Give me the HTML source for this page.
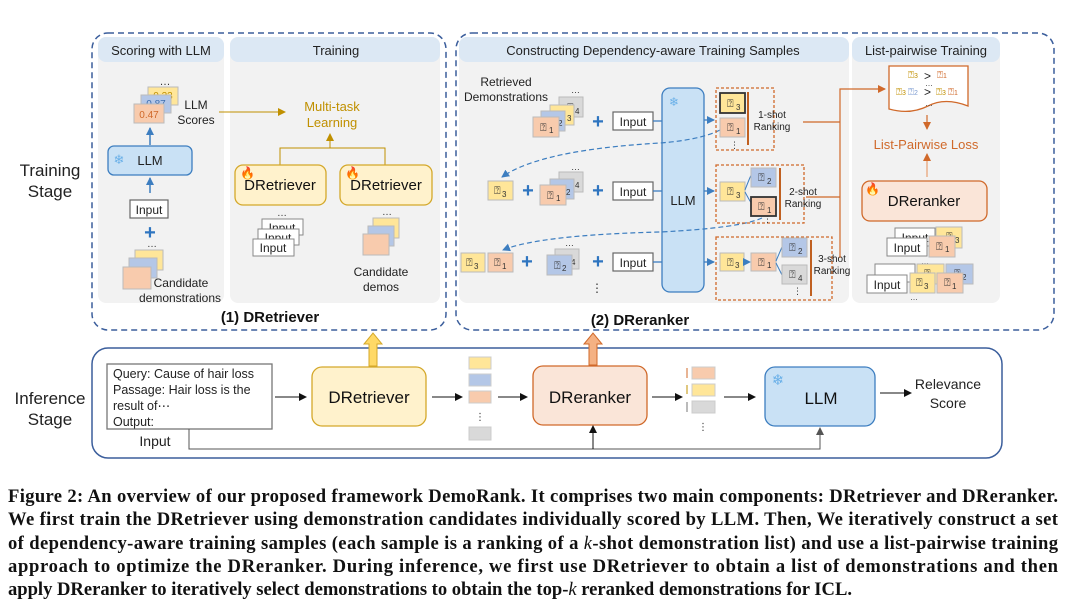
<!DOCTYPE html>
<html><head><meta charset="utf-8"><style>
body{margin:0;background:#fff}
svg{display:block;font-family:"Liberation Sans","DejaVu Sans",sans-serif}
.c{font-family:"Liberation Serif",serif;font-weight:bold;font-size:18.6px;fill:#111}
.q{font-family:"DejaVu Sans",sans-serif;font-size:11px;fill:#333}
.s{font-size:8px;fill:#333}
</style></head><body>
<svg width="1066" height="605" viewBox="0 0 1066 605" xmlns="http://www.w3.org/2000/svg">
<defs>
<marker id="ab" markerWidth="8" markerHeight="8" refX="7" refY="4" orient="auto" markerUnits="userSpaceOnUse"><path d="M0,0L8,4L0,8z" fill="#111"/></marker>
<marker id="abl" markerWidth="8" markerHeight="8" refX="7" refY="4" orient="auto" markerUnits="userSpaceOnUse"><path d="M0,0L8,4L0,8z" fill="#3d7ec0"/></marker>
<marker id="ago" markerWidth="8" markerHeight="8" refX="7" refY="4" orient="auto" markerUnits="userSpaceOnUse"><path d="M0,0L8,4L0,8z" fill="#c09000"/></marker>
<marker id="aor" markerWidth="8" markerHeight="8" refX="7" refY="4" orient="auto" markerUnits="userSpaceOnUse"><path d="M0,0L8,4L0,8z" fill="#d0692a"/></marker>
<marker id="agr" markerWidth="8" markerHeight="8" refX="7" refY="4" orient="auto" markerUnits="userSpaceOnUse"><path d="M0,0L8,4L0,8z" fill="#555"/></marker>
</defs>

<text x="50" y="176" font-size="17" text-anchor="middle" fill="#222">Training</text>
<text x="50" y="197" font-size="17" text-anchor="middle" fill="#222">Stage</text>
<text x="50" y="404" font-size="17" text-anchor="middle" fill="#222">Inference</text>
<text x="50" y="425" font-size="17" text-anchor="middle" fill="#222">Stage</text>

<rect x="92" y="33" width="354" height="297" rx="16" fill="#fff" stroke="#3b5e9c" stroke-width="1.5" stroke-dasharray="6,4"/>
<rect x="98" y="37" width="126" height="266" rx="8" fill="#f2f2f2"/>
<rect x="98" y="37" width="126" height="25" rx="8" fill="#dce8f4"/>
<text x="161" y="55" font-size="13" text-anchor="middle" fill="#222">Scoring with LLM</text>
<rect x="230" y="37" width="210" height="266" rx="8" fill="#f2f2f2"/>
<rect x="230" y="37" width="210" height="25" rx="8" fill="#dce8f4"/>
<text x="336" y="55" font-size="13" text-anchor="middle" fill="#222">Training</text>
<text x="270" y="322" font-size="15" font-weight="bold" text-anchor="middle" fill="#111">(1) DRetriever</text>

<text x="165" y="85" font-size="11" text-anchor="middle" fill="#333">…</text>
<rect x="148" y="87" width="30" height="18" fill="#ffe699" stroke="#bbb"/>
<text x="163" y="99" font-size="10" text-anchor="middle" fill="#c09000">0.23</text>
<rect x="141" y="95" width="30" height="18" fill="#b4c7e7" stroke="#bbb"/>
<text x="156" y="107" font-size="10" text-anchor="middle" fill="#3d6eb0">0.87</text>
<rect x="134" y="104" width="30" height="19" fill="#f8cbad" stroke="#bbb"/>
<text x="149" y="118" font-size="10" text-anchor="middle" fill="#d0692a">0.47</text>
<text x="196" y="109" font-size="12" text-anchor="middle" fill="#222">LLM</text>
<text x="196" y="124" font-size="12" text-anchor="middle" fill="#222">Scores</text>
<line x1="150" y1="145" x2="150" y2="128" stroke="#3d7ec0" stroke-width="1.5" marker-end="url(#abl)"/>
<rect x="108" y="146" width="84" height="29" rx="6" fill="#c9e1f5" stroke="#3d7ec0" stroke-width="1.3"/>
<text x="119" y="164" font-size="13" text-anchor="middle" fill="#6ab0e8">❄</text>
<text x="150" y="165" font-size="13" text-anchor="middle" fill="#222">LLM</text>
<line x1="150" y1="193" x2="150" y2="178" stroke="#3d7ec0" stroke-width="1.5" marker-end="url(#abl)"/>
<rect x="130" y="200" width="38" height="18" fill="#fff" stroke="#666" stroke-width="1.2"/>
<text x="149" y="214" font-size="12" text-anchor="middle" fill="#222">Input</text>
<text x="150" y="239" font-size="20" font-weight="bold" text-anchor="middle" fill="#2f75c0">+</text>
<text x="152" y="247" font-size="10" text-anchor="middle" fill="#333">…</text>
<rect x="135" y="250" width="28" height="20" fill="#ffe699" stroke="#bbb"/>
<rect x="129" y="258" width="28" height="20" fill="#b4c7e7" stroke="#bbb"/>
<rect x="123" y="267" width="28" height="22" fill="#f8cbad" stroke="#bbb"/>
<text x="181" y="287" font-size="12" text-anchor="middle" fill="#222">Candidate</text>
<text x="180" y="302" font-size="12" text-anchor="middle" fill="#222">demonstrations</text>

<line x1="219" y1="112" x2="285" y2="112" stroke="#c09000" stroke-width="1" marker-end="url(#ago)"/>
<text x="332" y="111" font-size="13" text-anchor="middle" fill="#c09000">Multi-task</text>
<text x="332" y="127" font-size="13" text-anchor="middle" fill="#c09000">Learning</text>
<path d="M280,165V148H385V165M330,148V134" fill="none" stroke="#c09000" stroke-width="1" marker-end="url(#ago)"/>
<rect x="235" y="165" width="91" height="40" rx="8" fill="#fff2cc" stroke="#d4a82a" stroke-width="1.3"/>
<text x="280" y="190" font-size="15" text-anchor="middle" fill="#111">DRetriever</text>
<text x="240" y="177" font-size="12" fill="#e04020">🔥</text>
<rect x="340" y="165" width="92" height="40" rx="8" fill="#fff2cc" stroke="#d4a82a" stroke-width="1.3"/>
<text x="386" y="190" font-size="15" text-anchor="middle" fill="#111">DRetriever</text>
<text x="345" y="177" font-size="12" fill="#e04020">🔥</text>
<text x="282" y="216" font-size="10" text-anchor="middle" fill="#333">…</text>
<rect x="262" y="219" width="41" height="16" fill="#fff" stroke="#888"/>
<text x="282" y="232" font-size="12" text-anchor="middle" fill="#222">Input</text>
<rect x="258" y="229" width="41" height="16" fill="#fff" stroke="#888"/>
<text x="278" y="242" font-size="12" text-anchor="middle" fill="#222">Input</text>
<rect x="253" y="239" width="41" height="17" fill="#fff" stroke="#888"/>
<text x="273" y="252" font-size="12" text-anchor="middle" fill="#222">Input</text>
<text x="387" y="215" font-size="10" text-anchor="middle" fill="#333">…</text>
<rect x="373" y="218" width="26" height="20" fill="#ffe699" stroke="#bbb"/>
<rect x="368" y="226" width="26" height="20" fill="#b4c7e7" stroke="#bbb"/>
<rect x="363" y="234" width="26" height="21" fill="#f8cbad" stroke="#bbb"/>
<text x="381" y="276" font-size="12" text-anchor="middle" fill="#222">Candidate</text>
<text x="381" y="291" font-size="12" text-anchor="middle" fill="#222">demos</text>

<rect x="456" y="33" width="598" height="297" rx="16" fill="#fff" stroke="#3b5e9c" stroke-width="1.5" stroke-dasharray="6,4"/>
<rect x="459" y="37" width="390" height="266" rx="8" fill="#f2f2f2"/>
<rect x="459" y="37" width="390" height="25" rx="8" fill="#dce8f4"/>
<text x="653" y="55" font-size="13" text-anchor="middle" fill="#222">Constructing Dependency-aware Training Samples</text>
<rect x="852" y="37" width="148" height="266" rx="8" fill="#f2f2f2"/>
<rect x="852" y="37" width="148" height="25" rx="8" fill="#dce8f4"/>
<text x="926" y="55" font-size="13" text-anchor="middle" fill="#222">List-pairwise Training</text>
<text x="640" y="325" font-size="15" font-weight="bold" text-anchor="middle" fill="#111">(2) DReranker</text>

<text x="506" y="86" font-size="12" text-anchor="middle" fill="#222">Retrieved</text>
<text x="506" y="101" font-size="12" text-anchor="middle" fill="#222">Demonstrations</text>

<text x="571" y="93" font-size="9" fill="#333">…</text>
<rect x="559" y="97" width="24" height="20" fill="#d9d9d9" stroke="#bbb"/><text x="567" y="111" class="q">⍰</text><text x="575" y="114" class="s">4</text>
<rect x="550" y="105" width="24" height="20" fill="#ffe699" stroke="#bbb"/><text x="559" y="119" class="q">⍰</text><text x="567" y="121" class="s">3</text>
<rect x="541" y="111" width="24" height="20" fill="#b4c7e7" stroke="#bbb"/><text x="550" y="124" class="q">⍰</text><text x="558" y="126" class="s">2</text>
<rect x="533" y="117" width="26" height="20" fill="#f8cbad" stroke="#bbb"/><text x="540" y="131" class="q">⍰</text><text x="549" y="133" class="s">1</text>
<text x="598" y="128" font-size="20" font-weight="bold" text-anchor="middle" fill="#2f75c0">+</text>
<rect x="613" y="112" width="40" height="18" fill="#fff" stroke="#666" stroke-width="1.2"/>
<text x="633" y="126" font-size="12" text-anchor="middle" fill="#222">Input</text>
<line x1="653" y1="121" x2="662" y2="121" stroke="#3d7ec0" stroke-width="1.3"/>

<rect x="488" y="181" width="25" height="19" fill="#ffe699" stroke="#bbb"/><text x="494" y="194" class="q">⍰</text><text x="502" y="197" class="s">3</text>
<text x="528" y="197" font-size="20" font-weight="bold" text-anchor="middle" fill="#2f75c0">+</text>
<text x="571" y="170" font-size="9" fill="#333">…</text>
<rect x="559" y="172" width="24" height="20" fill="#d9d9d9" stroke="#bbb"/><text x="567" y="186" class="q">⍰</text><text x="575" y="188" class="s">4</text>
<rect x="550" y="179" width="24" height="20" fill="#b4c7e7" stroke="#bbb"/><text x="557" y="192" class="q">⍰</text><text x="566" y="195" class="s">2</text>
<rect x="540" y="185" width="26" height="20" fill="#f8cbad" stroke="#bbb"/><text x="547" y="199" class="q">⍰</text><text x="556" y="201" class="s">1</text>
<text x="598" y="197" font-size="20" font-weight="bold" text-anchor="middle" fill="#2f75c0">+</text>
<rect x="613" y="182" width="40" height="18" fill="#fff" stroke="#666" stroke-width="1.2"/>
<text x="633" y="196" font-size="12" text-anchor="middle" fill="#222">Input</text>
<line x1="653" y1="191" x2="662" y2="191" stroke="#3d7ec0" stroke-width="1.3"/>

<rect x="461" y="253" width="24" height="19" fill="#ffe699" stroke="#bbb"/><text x="466" y="266" class="q">⍰</text><text x="474" y="269" class="s">3</text>
<rect x="488" y="253" width="25" height="19" fill="#f8cbad" stroke="#bbb"/><text x="494" y="266" class="q">⍰</text><text x="502" y="269" class="s">1</text>
<text x="527" y="268" font-size="20" font-weight="bold" text-anchor="middle" fill="#2f75c0">+</text>
<text x="565" y="246" font-size="9" fill="#333">…</text>
<rect x="555" y="249" width="24" height="20" fill="#d9d9d9" stroke="#bbb"/><text x="563" y="263" class="q">⍰</text><text x="571" y="265" class="s">4</text>
<rect x="547" y="255" width="25" height="20" fill="#b4c7e7" stroke="#bbb"/><text x="554" y="269" class="q">⍰</text><text x="562" y="271" class="s">2</text>
<text x="598" y="268" font-size="20" font-weight="bold" text-anchor="middle" fill="#2f75c0">+</text>
<rect x="613" y="253" width="40" height="18" fill="#fff" stroke="#666" stroke-width="1.2"/>
<text x="633" y="267" font-size="12" text-anchor="middle" fill="#222">Input</text>
<line x1="653" y1="262" x2="662" y2="262" stroke="#3d7ec0" stroke-width="1.3"/>
<text x="597" y="292" font-size="12" text-anchor="middle" fill="#333">⋮</text>

<rect x="662" y="88" width="42" height="204" rx="8" fill="#c9e1f5" stroke="#3d7ec0" stroke-width="1.3"/>
<text x="674" y="106" font-size="12" text-anchor="middle" fill="#6ab0e8">❄</text>
<text x="683" y="205" font-size="13" text-anchor="middle" fill="#222">LLM</text>
<line x1="704" y1="120" x2="714" y2="120" stroke="#3d7ec0" stroke-width="1.3" marker-end="url(#abl)"/>
<line x1="704" y1="191" x2="714" y2="191" stroke="#3d7ec0" stroke-width="1.3" marker-end="url(#abl)"/>
<line x1="704" y1="262" x2="714" y2="262" stroke="#3d7ec0" stroke-width="1.3" marker-end="url(#abl)"/>

<path d="M720,130 Q700,140 660,143 Q540,150 502,177" fill="none" stroke="#3d7ec0" stroke-width="1.2" stroke-dasharray="5,3" marker-end="url(#abl)"/>
<path d="M762,218 Q740,228 660,232 Q540,235 503,250" fill="none" stroke="#3d7ec0" stroke-width="1.2" stroke-dasharray="5,3" marker-end="url(#abl)"/>

<rect x="716" y="88" width="58" height="62" fill="none" stroke="#d0692a" stroke-width="1.3" stroke-dasharray="3,2"/>
<rect x="720" y="93" width="25" height="20" fill="#ffe699" stroke="#333" stroke-width="1.8"/><text x="727" y="107" class="q">⍰</text><text x="736" y="110" class="s">3</text>
<rect x="720" y="118" width="25" height="19" fill="#f8cbad" stroke="#bbb"/><text x="727" y="131" class="q">⍰</text><text x="736" y="134" class="s">1</text>
<text x="730" y="148" font-size="9" fill="#333">⋮</text>
<line x1="748" y1="92" x2="748" y2="145" stroke="#c06020" stroke-width="2"/>
<text x="772" y="118" font-size="10" text-anchor="middle" fill="#222">1-shot</text>
<text x="772" y="130" font-size="10" text-anchor="middle" fill="#222">Ranking</text>

<rect x="716" y="165" width="88" height="58" fill="none" stroke="#d0692a" stroke-width="1.3" stroke-dasharray="3,2"/>
<rect x="720" y="182" width="25" height="19" fill="#ffe699" stroke="#bbb"/><text x="727" y="195" class="q">⍰</text><text x="736" y="198" class="s">3</text>
<path d="M745,190 Q752,172 751,176 M745,192 Q752,205 751,202" fill="none" stroke="#3d7ec0" stroke-width="1"/>
<rect x="751" y="168" width="25" height="19" fill="#b4c7e7" stroke="#bbb"/><text x="758" y="181" class="q">⍰</text><text x="767" y="184" class="s">2</text>
<rect x="751" y="197" width="25" height="19" fill="#f8cbad" stroke="#333" stroke-width="1.8"/><text x="758" y="210" class="q">⍰</text><text x="767" y="213" class="s">1</text>
<text x="763" y="222" font-size="9" fill="#333">⋮</text>
<line x1="780" y1="168" x2="780" y2="220" stroke="#c06020" stroke-width="2"/>
<text x="803" y="195" font-size="10" text-anchor="middle" fill="#222">2-shot</text>
<text x="803" y="207" font-size="10" text-anchor="middle" fill="#222">Ranking</text>

<rect x="716" y="237" width="116" height="63" fill="none" stroke="#d0692a" stroke-width="1.3" stroke-dasharray="3,2"/>
<rect x="720" y="253" width="24" height="18" fill="#ffe699" stroke="#bbb"/><text x="727" y="266" class="q">⍰</text><text x="735" y="268" class="s">3</text>
<line x1="744" y1="262" x2="750" y2="262" stroke="#3d7ec0" stroke-width="1" marker-end="url(#abl)"/>
<rect x="751" y="253" width="25" height="18" fill="#f8cbad" stroke="#bbb"/><text x="758" y="266" class="q">⍰</text><text x="767" y="268" class="s">1</text>
<path d="M776,261 Q782,247 782,247 M776,263 Q782,275 782,275" fill="none" stroke="#3d7ec0" stroke-width="1"/>
<rect x="782" y="238" width="25" height="19" fill="#b4c7e7" stroke="#bbb"/><text x="789" y="251" class="q">⍰</text><text x="798" y="254" class="s">2</text>
<rect x="782" y="265" width="25" height="19" fill="#d9d9d9" stroke="#bbb"/><text x="789" y="278" class="q">⍰</text><text x="798" y="281" class="s">4</text>
<text x="793" y="294" font-size="9" fill="#333">⋮</text>
<line x1="811" y1="240" x2="811" y2="296" stroke="#c06020" stroke-width="2"/>
<text x="832" y="262" font-size="10" text-anchor="middle" fill="#222">3-shot</text>
<text x="832" y="274" font-size="10" text-anchor="middle" fill="#222">Ranking</text>

<path d="M803,122H840M806,197H840M840,258V89H885" fill="none" stroke="#d0692a" stroke-width="1.2" marker-end="url(#aor)"/>

<path d="M889,66H968V106Q945,97 928,106Q910,115 889,109Z" fill="#fff" stroke="#d0692a" stroke-width="1.3"/>
<text x="908" y="78" font-size="10" fill="#c09000">⍰<tspan font-size="7">3</tspan></text>
<text x="924" y="80" font-size="12" fill="#222">&gt;</text>
<text x="937" y="78" font-size="10" fill="#d0692a">⍰<tspan font-size="7">1</tspan></text>
<text x="925" y="86" font-size="8" fill="#333">…</text>
<text x="896" y="95" font-size="10" fill="#c09000">⍰<tspan font-size="7">3</tspan></text>
<text x="908" y="95" font-size="10" fill="#7a9ad0">⍰<tspan font-size="7">2</tspan></text>
<text x="924" y="96" font-size="12" fill="#222">&gt;</text>
<text x="936" y="95" font-size="10" fill="#c09000">⍰<tspan font-size="7">3</tspan></text>
<text x="948" y="95" font-size="10" fill="#d0692a">⍰<tspan font-size="7">1</tspan></text>
<text x="925" y="106" font-size="8" fill="#333">…</text>
<line x1="927" y1="115" x2="927" y2="129" stroke="#d0692a" stroke-width="1.2" marker-end="url(#aor)"/>
<text x="926" y="149" font-size="13" text-anchor="middle" fill="#d0692a">List-Pairwise Loss</text>
<line x1="927" y1="177" x2="927" y2="154" stroke="#e8a070" stroke-width="1.2" marker-end="url(#aor)"/>
<rect x="862" y="181" width="125" height="40" rx="8" fill="#fae5d8" stroke="#d0692a" stroke-width="1.3"/>
<text x="924" y="206" font-size="15" text-anchor="middle" fill="#111">DReranker</text>
<text x="865" y="193" font-size="12" fill="#e04020">🔥</text>
<rect x="895" y="228" width="40" height="18" fill="#fff" stroke="#888"/><text x="915" y="242" font-size="12" text-anchor="middle" fill="#222">Input</text>
<rect x="936" y="227" width="26" height="21" fill="#ffe699" stroke="#bbb"/><text x="946" y="240" class="q">⍰</text><text x="955" y="243" class="s">3</text>
<rect x="887" y="238" width="40" height="18" fill="#fff" stroke="#888"/><text x="907" y="252" font-size="12" text-anchor="middle" fill="#222">Input</text>
<rect x="929" y="236" width="26" height="21" fill="#f8cbad" stroke="#bbb"/><text x="936" y="250" class="q">⍰</text><text x="945" y="252" class="s">1</text>
<text x="921" y="264" font-size="8" fill="#333">…</text>
<rect x="875" y="264" width="40" height="18" fill="#fff" stroke="#888"/>
<rect x="917" y="264" width="27" height="20" fill="#ffe699" stroke="#bbb"/><text x="924" y="277" class="q">⍰</text>
<rect x="946" y="264" width="27" height="20" fill="#b4c7e7" stroke="#bbb"/><text x="954" y="277" class="q">⍰</text><text x="962" y="280" class="s">2</text>
<rect x="867" y="275" width="40" height="18" fill="#fff" stroke="#888"/><text x="887" y="289" font-size="12" text-anchor="middle" fill="#222">Input</text>
<rect x="910" y="273" width="25" height="20" fill="#ffe699" stroke="#bbb"/><text x="916" y="286" class="q">⍰</text><text x="924" y="289" class="s">3</text>
<rect x="937" y="273" width="26" height="20" fill="#f8cbad" stroke="#bbb"/><text x="944" y="286" class="q">⍰</text><text x="952" y="289" class="s">1</text>
<text x="910" y="300" font-size="8" fill="#333">…</text>

<rect x="92" y="348" width="910" height="110" rx="16" fill="#fff" stroke="#3b5e9c" stroke-width="1.5"/>

<path d="M369,366V344H364L373,333L382,344H377V366Z" fill="#ffd966" stroke="#d4a82a" stroke-width="1"/>
<path d="M589,365V344H584L593,333L602,344H597V365Z" fill="#f4b183" stroke="#d0692a" stroke-width="1"/>

<rect x="107" y="364" width="165" height="65" fill="#fff" stroke="#777" stroke-width="1.3"/>
<text x="113" y="378" font-size="12.5" fill="#222">Query: Cause of hair loss</text>
<text x="113" y="394" font-size="12.5" fill="#222">Passage: Hair loss is the</text>
<text x="113" y="410" font-size="12.5" fill="#222">result of⋯</text>
<text x="113" y="426" font-size="12.5" fill="#222">Output:</text>
<text x="155" y="446" font-size="14" text-anchor="middle" fill="#222">Input</text>
<line x1="275" y1="397" x2="306" y2="397" stroke="#111" stroke-width="1" marker-end="url(#ab)"/>
<rect x="312" y="367" width="114" height="59" rx="10" fill="#fff2cc" stroke="#d4a82a" stroke-width="1.3"/>
<text x="369" y="403" font-size="17" text-anchor="middle" fill="#111">DRetriever</text>
<line x1="432" y1="397" x2="462" y2="397" stroke="#111" stroke-width="1" marker-end="url(#ab)"/>
<rect x="469" y="357" width="22" height="12" fill="#ffe699" stroke="#ccc"/>
<rect x="469" y="374" width="22" height="12" fill="#b4c7e7" stroke="#ccc"/>
<rect x="469" y="391" width="22" height="12" fill="#f8cbad" stroke="#ccc"/>
<text x="480" y="420" font-size="10" text-anchor="middle" fill="#333">⋮</text>
<rect x="469" y="427" width="22" height="13" fill="#d9d9d9" stroke="#ccc"/>
<line x1="498" y1="397" x2="527" y2="397" stroke="#111" stroke-width="1" marker-end="url(#ab)"/>
<rect x="533" y="366" width="114" height="59" rx="10" fill="#fae5d8" stroke="#d0692a" stroke-width="1.3"/>
<text x="590" y="403" font-size="17" text-anchor="middle" fill="#111">DReranker</text>
<line x1="652" y1="397" x2="682" y2="397" stroke="#111" stroke-width="1" marker-end="url(#ab)"/>
<rect x="692" y="367" width="23" height="12" fill="#f8cbad" stroke="#ccc"/>
<rect x="692" y="384" width="23" height="12" fill="#ffe699" stroke="#ccc"/>
<rect x="692" y="401" width="23" height="12" fill="#d9d9d9" stroke="#ccc"/>
<line x1="687" y1="378" x2="687" y2="368" stroke="#d0692a" stroke-width="1"/>
<line x1="687" y1="385" x2="687" y2="394" stroke="#c09000" stroke-width="1"/>
<line x1="687" y1="412" x2="687" y2="402" stroke="#777" stroke-width="1"/>
<text x="703" y="430" font-size="10" text-anchor="middle" fill="#333">⋮</text>
<line x1="724" y1="397" x2="755" y2="397" stroke="#111" stroke-width="1" marker-end="url(#ab)"/>
<rect x="765" y="367" width="110" height="59" rx="10" fill="#c9e1f5" stroke="#3d7ec0" stroke-width="1.3"/>
<text x="778" y="385" font-size="15" text-anchor="middle" fill="#6ab0e8">❄</text>
<text x="821" y="404" font-size="17" text-anchor="middle" fill="#111">LLM</text>
<line x1="880" y1="393" x2="911" y2="393" stroke="#111" stroke-width="1" marker-end="url(#ab)"/>
<text x="948" y="389" font-size="14" text-anchor="middle" fill="#222">Relevance</text>
<text x="948" y="408" font-size="14" text-anchor="middle" fill="#222">Score</text>
<path d="M189,429V449H820V428" fill="none" stroke="#555" stroke-width="1" marker-end="url(#agr)"/>
<line x1="593" y1="449" x2="593" y2="426" stroke="#111" stroke-width="1" marker-end="url(#ab)"/>

<text class="c" x="8" y="502" textLength="1050" lengthAdjust="spacing">Figure 2: An overview of our proposed framework DemoRank. It comprises two main components: DRetriever and DReranker.</text>
<text class="c" x="8" y="525" textLength="1050" lengthAdjust="spacing">We first train the DRetriever using demonstration candidates individually scored by LLM. Then, We iteratively construct a set</text>
<text class="c" x="8" y="549" textLength="1050" lengthAdjust="spacing">of dependency-aware training samples (each sample is a ranking of a <tspan font-style="italic" font-weight="normal">k</tspan>-shot demonstration list) and use a list-pairwise training</text>
<text class="c" x="8" y="572" textLength="1050" lengthAdjust="spacing">approach to optimize the DReranker. During inference, we first use DRetriever to obtain a list of demonstrations and then</text>
<text class="c" x="8" y="595" textLength="844" lengthAdjust="spacing">apply DReranker to iteratively select demonstrations to obtain the top-<tspan font-style="italic" font-weight="normal">k</tspan> reranked demonstrations for ICL.</text>
</svg>
</body></html>
